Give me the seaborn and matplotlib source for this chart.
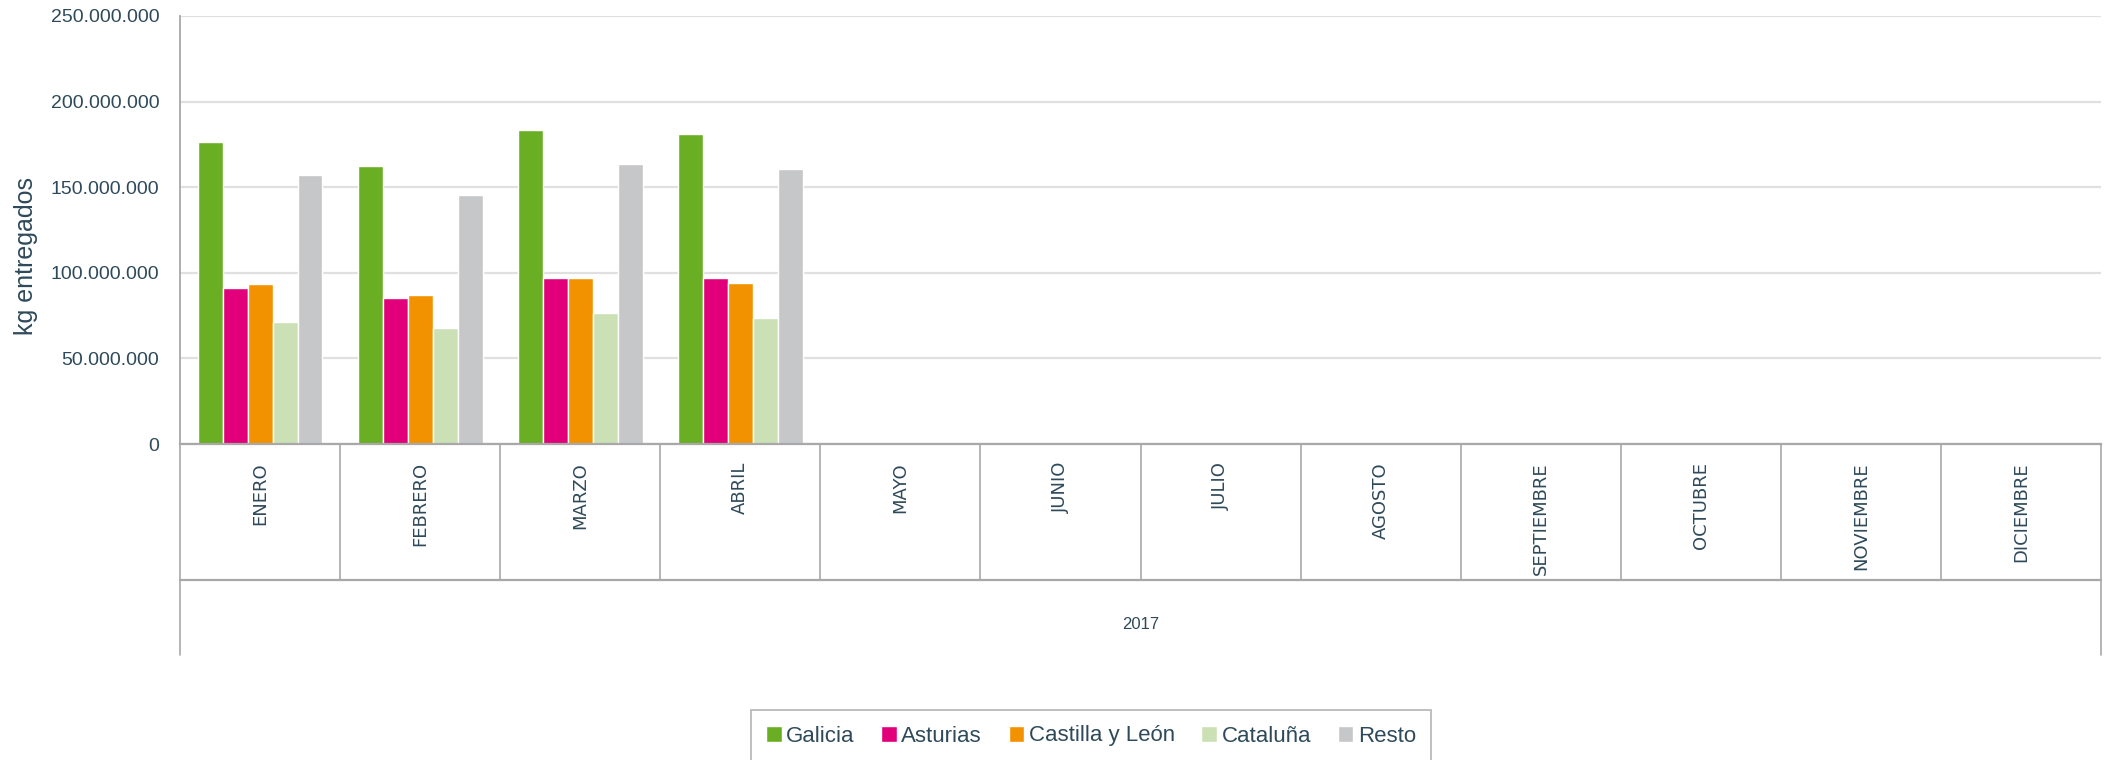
import pandas as pd
import matplotlib.pyplot as plt
import matplotlib.ticker as mticker
import seaborn as sns

# ============================
# DATOS (kg entregados, 2017)
# ============================
meses = ["ENERO", "FEBRERO", "MARZO", "ABRIL", "MAYO", "JUNIO", "JULIO",
         "AGOSTO", "SEPTIEMBRE", "OCTUBRE", "NOVIEMBRE", "DICIEMBRE"]
meses_con_datos = ["ENERO", "FEBRERO", "MARZO", "ABRIL"]

regiones = ["Galicia", "Asturias", "Castilla y León", "Cataluña", "Resto"]
galicia  = [176_400_000, 162_500_000, 183_400_000, 181_100_000]
asturias = [91_400_000, 85_000_000, 96_700_000, 96_700_000]
castilla = [93_700_000, 86_800_000, 96_700_000, 94_300_000]
cataluna = [71_200_000, 67_500_000, 76_300_000, 73_400_000]
resto    = [157_200_000, 145_600_000, 163_600_000, 160_700_000]

colores = ["#6AAF23", "#E2007A", "#F39200", "#CBE0B4", "#C6C7C9"]

TEXTO = "#2E4A5A"
LINEA = "#A8A8A8"
SANS = ["Liberation Sans", "DejaVu Sans"]

# tabla larga
filas = []
for region, valores in zip(regiones, [galicia, asturias, castilla, cataluna, resto]):
    for mes, v in zip(meses_con_datos, valores):
        filas.append({"Mes": mes, "Region": region, "kg": v})
df = pd.DataFrame(filas)

# ============================
# GRÁFICO
# ============================
sns.set_style("white")
plt.rcParams["font.family"] = SANS

fig = plt.figure(figsize=(21.05, 7.6), dpi=100)
ax = fig.add_axes([180 / 2105, 1 - 444 / 760, 1921 / 2105, 428 / 760])

sns.barplot(data=df, x="Mes", y="kg", hue="Region", order=meses,
            hue_order=regiones, palette=colores, width=0.78,
            edgecolor="white", linewidth=1, saturation=1, ax=ax)

ax.set_ylim(0, 250_000_000)
ax.set_xlim(-0.5, len(meses) - 0.5)
ax.yaxis.set_major_locator(mticker.MultipleLocator(50_000_000))
ax.yaxis.set_major_formatter(
    mticker.FuncFormatter(lambda v, p: f"{int(v):,}".replace(",", ".")))
ax.grid(axis="y", color="#E0E0E0", linewidth=1.6)
ax.set_axisbelow(True)

for s in ["top", "right"]:
    ax.spines[s].set_visible(False)
ax.spines["left"].set_color(LINEA)
ax.spines["bottom"].set_color(LINEA)
ax.spines["left"].set_linewidth(1.3)
ax.spines["bottom"].set_linewidth(1.6)

ax.tick_params(axis="y", length=0, pad=15, labelcolor=TEXTO, labelsize=14)

ax.set_xlabel("")
ax.set_xticks(range(len(meses)))
ax.set_xticklabels(meses, rotation=90, fontsize=13, color=TEXTO,
                   family=["DejaVu Sans"], va="top")
ax.tick_params(axis="x", length=0, pad=13)

ax.set_ylabel("kg entregados", fontsize=18, color=TEXTO)
ax.yaxis.set_label_coords(-0.074, 0.44)

# caja de categorías (eje de dos niveles)
trans = ax.get_xaxis_transform()
y_caja = -136 / 428
y_fin = -211 / 428
for i in range(len(meses) + 1):
    x = i - 0.5
    bajo = y_fin if i in (0, len(meses)) else y_caja
    ax.plot([x, x], [0, bajo], transform=trans, color=LINEA,
            linewidth=1.2, clip_on=False)
ax.plot([-0.5, len(meses) - 0.5], [y_caja, y_caja], transform=trans,
        color=LINEA, linewidth=1.6, clip_on=False)
ax.text((len(meses) - 1) / 2, -180 / 428, "2017", transform=trans,
        ha="center", va="center", fontsize=12, color=TEXTO)

# leyenda
ax.legend_.remove()
handles, labels = ax.get_legend_handles_labels()
leg = fig.legend(handles, labels, loc="center", ncol=5,
                 bbox_to_anchor=(1091 / 2105, 1 - 736 / 760),
                 frameon=True, fancybox=False, edgecolor=LINEA,
                 handlelength=0.7, handleheight=0.7, handletextpad=0.2,
                 columnspacing=1.2, borderpad=0.7,
                 prop={"size": 16})
leg.get_frame().set_linewidth(1.3)
for t in leg.get_texts():
    t.set_color(TEXTO)

fig.savefig("out.png", dpi=100)
